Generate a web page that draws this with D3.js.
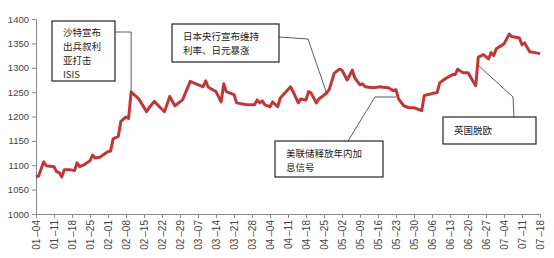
<!DOCTYPE html>
<html>
<head>
<meta charset="utf-8">
<script src="https://cdn.jsdelivr.net/npm/d3@7"></script>
<style>
  body { margin: 0; background: #fff; }
  svg { display: block; font-family: "Liberation Sans", Arial, sans-serif; }
  .note { font-family: "Noto Sans CJK SC", sans-serif; font-size: 9.5px; fill: #222; }
</style>
</head>
<body>
<svg width="554" height="258"></svg>
<script>
// gold price, 2016
const dates = ["01-04","01-05","01-07","01-08","01-11","01-12","01-13","01-14","01-15","01-17",
  "01-19","01-20","01-21","01-23","01-25","01-26","01-27","01-29","02-01","02-02",
  "02-03","02-05","02-06","02-08","02-09","02-10","02-13","02-16","02-17","02-19",
  "02-21","02-23","02-25","02-27","02-29","03-01","03-04","03-09","03-10","03-11",
  "03-14","03-16","03-17","03-18","03-21","03-22","03-26","03-29","03-30","03-31",
  "04-01","04-02","04-04","04-05","04-07","04-08","04-12","04-13","04-15","04-16",
  "04-18","04-19","04-20","04-22","04-23","04-26","04-27","04-29","05-01","05-02",
  "05-04","05-06","05-07","05-09","05-10","05-11","05-14","05-17","05-18","05-20",
  "05-22","05-23","05-24","05-26","05-28","05-30","06-02","06-03","06-06","06-08",
  "06-09","06-11","06-14","06-15","06-16","06-18","06-20","06-22","06-23","06-24",
  "06-26","06-28","06-29","06-30","07-01","07-04","07-06","07-07","07-10","07-11",
  "07-12","07-14","07-16","07-18"];
const prices = [1076,1078,1107,1099,1097,1087,1085,1076,1091,1091,
  1089,1105,1097,1102,1109,1121,1115,1117,1128,1129,
  1154,1159,1190,1199,1196,1250,1236,1210,1218,1231,
  1220,1210,1241,1222,1230,1234,1272,1261,1273,1260,
  1251,1230,1267,1251,1245,1228,1224,1224,1234,1228,
  1232,1224,1220,1230,1220,1238,1261,1251,1228,1236,
  1234,1251,1248,1228,1236,1248,1255,1289,1297,1295,
  1275,1295,1279,1265,1267,1261,1259,1261,1260,1259,
  1253,1255,1236,1222,1218,1218,1212,1243,1247,1249,
  1269,1277,1286,1286,1297,1290,1290,1272,1263,1322,
  1327,1318,1331,1325,1339,1349,1369,1364,1361,1347,
  1351,1333,1331,1329];
const tickDates = ["01-04","01-11","01-18","01-25","02-01","02-08","02-15","02-22","02-29",
  "03-07","03-14","03-21","03-28","04-04","04-11","04-18","04-25","05-02","05-09","05-16",
  "05-23","05-30","06-06","06-13","06-20","06-27","07-04","07-11","07-18"];
const yTicks = [1000,1050,1100,1150,1200,1250,1300,1350,1400];

// annotations: text lines, box, and where the leader goes
const notes = [
  { lines: ["沙特宣布","出兵叙利","亚打击","ISIS"], box: [52, 21, 63, 60], tx: 63, ty: 36, lh: 13.9,
    path: d => [[115, 32], [x(d("02-10")), 32], [x(d("02-10")), y(1250)]] },
  { lines: ["日本央行宣布维持","利率、日元暴涨"], box: [172, 24, 107, 38], tx: 183, ty: 40, lh: 14,
    path: d => [[279, 37], [308, 39], [x(d("04-26")), y(1248)]] },
  { lines: ["美联储释放年内加","息信号"], box: [275, 141, 108, 36], tx: 286, ty: 157, lh: 14,
    path: d => [[348, 141], [375, y(1240)], [x(d("05-23")), y(1240)]] },
  { lines: ["英国脱欧"], box: [443, 117, 93, 27], tx: 454, ty: 134, lh: 14,
    path: d => [[x(d("06-24")), y(1305)], [513, 97], [514, 117]] }
];

const parse = s => d3.timeParse("%Y-%m-%d")("2016-" + s);
const data = dates.map((s, i) => ({ date: parse(s), value: prices[i] }));

const svg = d3.select("svg");
const x = d3.scaleTime().domain([parse("01-04"), parse("07-18")]).range([36, 540]);
const y = d3.scaleLinear().domain([1000, 1400]).range([214, 19]);

// y axis
const yAxis = svg.append("g")
  .attr("transform", "translate(36,0)")
  .call(d3.axisLeft(y).tickValues(yTicks).tickSize(4).tickPadding(3).tickFormat(d3.format("d")));
yAxis.select(".domain").attr("stroke", "#888");
yAxis.selectAll(".tick line").attr("stroke", "#888");
yAxis.selectAll("text").attr("font-size", 9.5).attr("fill", "#444")
  .attr("font-family", "'Liberation Sans', Arial, sans-serif");

// x axis
const xAxis = svg.append("g")
  .attr("transform", "translate(0,214)")
  .call(d3.axisBottom(x).tickValues(tickDates.map(parse)).tickSize(4)
    .tickFormat(d3.timeFormat("%m\u2009–%d")));
xAxis.select(".domain").attr("stroke", "#888");
xAxis.selectAll(".tick line").attr("stroke", "#888");
xAxis.selectAll("text")
  .attr("font-size", 10).attr("fill", "#444")
  .attr("font-family", "'Liberation Sans', Arial, sans-serif")
  .attr("transform", "rotate(-90)")
  .attr("text-anchor", "end")
  .attr("x", -6).attr("y", 0).attr("dy", "0.35em");

// price line
svg.append("path")
  .datum(data)
  .attr("fill", "none")
  .attr("stroke", "#c0373a")
  .attr("stroke-width", 3)
  .attr("stroke-linejoin", "round")
  .attr("d", d3.line().x(d => x(d.date)).y(d => y(d.value)));

// annotations
notes.forEach(n => {
  svg.append("path")
    .attr("d", d3.line()(n.path(parse)))
    .attr("fill", "none").attr("stroke", "#333").attr("stroke-width", 0.8);
  svg.append("rect")
    .attr("x", n.box[0]).attr("y", n.box[1]).attr("width", n.box[2]).attr("height", n.box[3])
    .attr("fill", "#fff").attr("stroke", "#222").attr("stroke-width", 1.2);
  n.lines.forEach((l, i) => {
    svg.append("text").attr("class", "note")
      .attr("x", n.tx).attr("y", n.ty + i * n.lh).text(l);
  });
});
</script>
</body>
</html>
